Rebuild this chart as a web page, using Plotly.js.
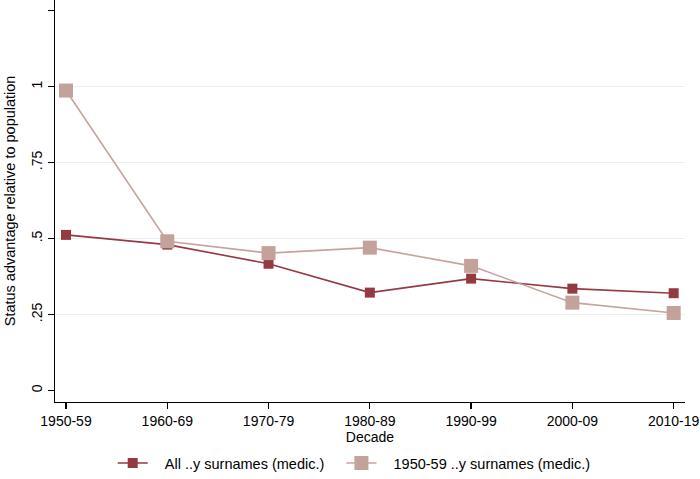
<!DOCTYPE html>
<html>
<head>
<meta charset="utf-8">
<script src="https://cdn.plot.ly/plotly-3.0.1.min.js"></script>
<style>html,body{margin:0;padding:0;background:#fff;}#chart{width:700px;height:479px;}</style>
</head>
<body>
<div id="chart"></div>
<script>
const decades = ["1950-59","1960-69","1970-79","1980-89","1990-99","2000-09","2010-19"];
const allSurnames = [0.512, 0.480, 0.417, 0.322, 0.368, 0.335, 0.320];
const surnames1950 = [0.987, 0.491, 0.452, 0.470, 0.410, 0.289, 0.255];
const yTickVals = [0, 0.25, 0.5, 0.75, 1, 1.25];
const yTickText = ["0", ".25", ".5", ".75", "1", "1.25"];
const gridVals = [0.25, 0.5, 0.75, 1];
const seriesNames = ["All ..y surnames (medic.)", "1950-59 ..y surnames (medic.)"];
const yTitle = "Status advantage relative to population";

const font = "Liberation Sans, Arial, Helvetica, sans-serif";
const pad = "\u00a0\u00a0\u00a0";
const tail = "\u00a0\u00a0\u00a0";

const traces = [
  {
    x: decades, y: allSurnames, name: pad + seriesNames[0] + tail,
    type: "scatter", mode: "lines+markers",
    line: {color: "#963a42", width: 1.6},
    marker: {symbol: "square", size: 10, color: "#963a42", line: {width: 0}}
  },
  {
    x: decades, y: surnames1950, name: pad + seriesNames[1],
    type: "scatter", mode: "lines+markers",
    line: {color: "#c6a49e", width: 1.6},
    marker: {symbol: "square", size: 14, color: "#c4a29c", line: {width: 0}}
  },
  {
    x: decades, y: allSurnames, yaxis: "y2", type: "scatter", mode: "none",
    showlegend: false, hoverinfo: "skip"
  }
];

const layout = {
  width: 700, height: 479,
  margin: {l: 55, r: 15, t: 0, b: 77},
  paper_bgcolor: "#ffffff", plot_bgcolor: "rgba(0,0,0,0)",
  font: {family: font, size: 14, color: "#000"},
  showlegend: true,
  xaxis: {
    type: "category",
    range: [-0.1086, 6.112],
    showline: true, linecolor: "#000", linewidth: 1.3,
    ticks: "outside", ticklen: 6, tickwidth: 1.3, tickcolor: "#000",
    showgrid: false, zeroline: false,
    tickfont: {family: font, size: 14},
    title: {text: "Decade", font: {family: font, size: 14}, standoff: 2}
  },
  yaxis: {
    range: [-0.038, 1.285],
    showline: true, linecolor: "#000", linewidth: 1.3,
    ticks: "outside", ticklen: 6, tickwidth: 1.3, tickcolor: "#000",
    tickvals: yTickVals, ticktext: yTickText, tickangle: -90,
    showgrid: false, zeroline: false,
    tickfont: {family: font, size: 14}
  },
  yaxis2: {
    overlaying: "y", matches: "y", range: [-0.038, 1.285],
    tickvals: gridVals, showticklabels: false, ticks: "",
    showgrid: true, gridcolor: "#e8f0f1", gridwidth: 1.4,
    zeroline: false, showline: false
  },
  annotations: [{
    text: yTitle, xref: "paper", yref: "paper",
    x: -0.071, y: 0.5, xanchor: "center", yanchor: "middle",
    textangle: -90, showarrow: false,
    font: {family: font, size: 14.5, color: "#000"}
  }],
  legend: {
    orientation: "h",
    xref: "container", yref: "container",
    x: 0.161, xanchor: "left",
    y: -0.008, yanchor: "bottom",
    font: {family: font, size: 14.5},
    bgcolor: "rgba(0,0,0,0)"
  }
};

Plotly.newPlot("chart", traces, layout, {displayModeBar: false, staticPlot: true});
</script>
</body>
</html>
